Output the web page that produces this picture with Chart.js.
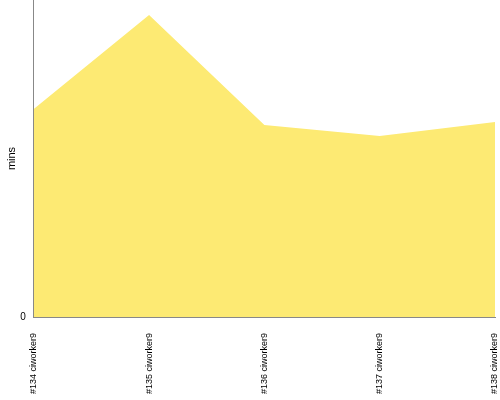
<!DOCTYPE html>
<html>
<head>
<meta charset="utf-8">
<script src="https://cdn.jsdelivr.net/npm/chart.js@4/dist/chart.umd.min.js"></script>
<style>
  html, body { margin: 0; padding: 0; background: #fff; }
  #wrap { width: 500px; height: 400px; }
</style>
</head>
<body>
<div id="wrap"><canvas id="buildChart"></canvas></div>
<script>
// builds en hun duur in minuten
const buildLabels = ['#134 ciworker9', '#135 ciworker9', '#136 ciworker9', '#137 ciworker9', '#138 ciworker9'];
const buildMins = [65.6, 95.3, 60.6, 57.1, 61.5];
const yTicks = [0];

const ctx = document.getElementById('buildChart').getContext('2d');
new Chart(ctx, {
  type: 'line',
  data: {
    labels: buildLabels,
    datasets: [{
      label: 'mins',
      data: buildMins,
      fill: 'origin',
      backgroundColor: 'rgb(253, 234, 115)',
      borderWidth: 0,
      pointRadius: 0,
      tension: 0
    }]
  },
  options: {
    responsive: true,
    maintainAspectRatio: false,
    animation: false,
    layout: { padding: { top: 0, right: 5, left: 1, bottom: 0 } },
    plugins: {
      legend: { display: false },
      tooltip: { enabled: false }
    },
    scales: {
      x: {
        offset: false,
        grid: { display: false },
        border: { display: true, color: '#888' },
        // geen extra ruimte rechts voor het laatste label, vaste hoogte
        afterFit: (scale) => { scale.paddingRight = 0; scale.paddingLeft = 0; scale.height = 83; },
        ticks: {
          color: '#000',
          font: { family: 'Liberation Sans', size: 9 },
          minRotation: 90,
          maxRotation: 90,
          padding: 8
        }
      },
      y: {
        min: 0,
        max: 100,
        grid: { display: false },
        border: { display: true, color: '#888' },
        afterBuildTicks: (scale) => { scale.ticks = yTicks.map(v => ({ value: v })); },
        // grafiek loopt tot de bovenrand
        afterFit: (scale) => { scale.paddingTop = 0; scale.paddingBottom = 0; },
        ticks: {
          color: '#000',
          font: { family: 'Liberation Sans', size: 10 },
          padding: 0
        },
        title: {
          display: true,
          text: 'mins',
          color: '#000',
          font: { family: 'Liberation Sans', size: 11 },
          padding: { top: 4, bottom: 2 }
        }
      }
    }
  }
});
</script>
</body>
</html>
